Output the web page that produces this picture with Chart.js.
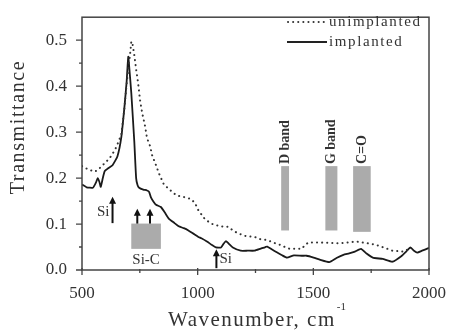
<!DOCTYPE html>
<html><head><meta charset="utf-8">
<script src="https://cdn.jsdelivr.net/npm/chart.js@4/dist/chart.umd.min.js"></script>
<style>html,body{margin:0;padding:0;background:#fff;overflow:hidden}#wrap{width:451px;height:332px}</style>
</head><body><div id="wrap"><canvas id="c" width="451" height="332"></canvas></div>
<script>
// ---- data ----
const wnImplanted = [500,520,547,560,568,575,581,590,598,615,632,653,670,683,693,700,706,713,726,734,740,747,765,781,790,798,810,820,841,858,875,900,918,940,960,985,1003,1016,1040,1060,1079,1101,1112,1122,1135,1152,1186,1216,1246,1270,1293,1301,1320,1344,1365,1386,1416,1450,1471,1501,1530,1569,1600,1630,1655,1680,1706,1730,1757,1800,1842,1880,1905,1919,1935,1949,1970,1995,2000];
const trImplanted = [0.186,0.180,0.179,0.190,0.200,0.192,0.181,0.200,0.215,0.222,0.228,0.247,0.289,0.352,0.410,0.464,0.430,0.386,0.280,0.200,0.185,0.179,0.175,0.173,0.170,0.158,0.148,0.142,0.137,0.125,0.112,0.102,0.095,0.091,0.086,0.078,0.072,0.069,0.062,0.055,0.049,0.049,0.057,0.063,0.057,0.049,0.042,0.042,0.042,0.046,0.050,0.051,0.045,0.038,0.032,0.027,0.032,0.031,0.031,0.027,0.022,0.017,0.026,0.033,0.036,0.040,0.046,0.036,0.027,0.024,0.018,0.030,0.042,0.049,0.042,0.038,0.042,0.047,0.048];
const wnUnimplanted = [500,526,555,570,585,606,628,649,670,683,692,700,708,713,717,726,734,743,751,760,773,781,794,803,820,832,854,883,909,947,973,990,1003,1032,1067,1101,1131,1150,1173,1207,1246,1271,1301,1331,1360,1386,1399,1429,1450,1465,1480,1520,1569,1612,1650,1684,1710,1750,1782,1815,1842,1868,1890,1910,1916];
const trUnimplanted = [0.226,0.219,0.214,0.218,0.226,0.236,0.249,0.268,0.295,0.350,0.400,0.437,0.470,0.496,0.497,0.468,0.437,0.405,0.369,0.342,0.312,0.287,0.270,0.250,0.228,0.211,0.186,0.173,0.162,0.158,0.154,0.144,0.130,0.110,0.099,0.095,0.094,0.087,0.080,0.074,0.072,0.067,0.065,0.059,0.054,0.048,0.046,0.046,0.046,0.055,0.060,0.060,0.059,0.058,0.060,0.062,0.060,0.057,0.053,0.047,0.042,0.041,0.040,0.045,0.048];
const seriesNames = ['unimplanted','implanted'];
const xTickValues = [500,1000,1500,2000];
const xMinorTicks = [750,1250,1750];
const yTickValues = [0,0.1,0.2,0.3,0.4,0.5];
const yTickLabels = ['0.0','0.1','0.2','0.3','0.4','0.5'];
const yMinorTicks = [0.05,0.15,0.25,0.35,0.45];
const xTitle = 'Wavenumber, cm';
const xTitleSup = '-1';
const yTitle = 'Transmittance';
// band regions (wavenumber / transmittance ranges)
const bandX0 = [713,1361,1552,1672];
const bandX1 = [841,1395,1604,1748];
const bandY0 = [0.046,0.086,0.086,0.083];
const bandY1 = [0.101,0.226,0.226,0.226];
const bandNames = ['Si-C','D band','G band','C=O'];
// arrows marking Si / Si-C features
const arrowX = [632,739,794,1081];
const arrowY0 = [0.102,0.101,0.101,0.004];
const arrowY1 = [0.157,0.131,0.131,0.043];
const siLabel = 'Si';

const FONT = '"Liberation Serif","Times New Roman",serif';
const TXT = '#333';

function drawText(ctx, t, x, y, size, opts) {
  opts = opts || {};
  ctx.save();
  ctx.font = (opts.weight||'') + ' ' + size + 'px ' + FONT;
  ctx.fillStyle = opts.color || TXT;
  ctx.textAlign = opts.align || 'left';
  ctx.textBaseline = opts.baseline || 'middle';
  if ('letterSpacing' in ctx) ctx.letterSpacing = (opts.spacing||0) + 'px';
  ctx.translate(x, y);
  if (opts.rotate) ctx.rotate(opts.rotate);
  ctx.fillText(t, 0, 0);
  ctx.restore();
}

const decor = {
  id: 'decor',
  beforeDatasetsDraw(chart) {
    const {ctx, scales:{x, y}} = chart;
    ctx.save();
    ctx.fillStyle = '#ababab';
    for (let i = 0; i < bandX0.length; i++) {
      const l = x.getPixelForValue(bandX0[i]), r = x.getPixelForValue(bandX1[i]);
      const t = y.getPixelForValue(bandY1[i]), b = y.getPixelForValue(bandY0[i]);
      ctx.fillRect(l, t, r - l, b - t);
    }
    ctx.restore();
  },
  afterDraw(chart) {
    const {ctx, chartArea:a, scales:{x, y}} = chart;
    ctx.save();
    // frame
    ctx.strokeStyle = '#444'; ctx.lineWidth = 1.5;
    ctx.strokeRect(a.left, a.top, a.right - a.left, a.bottom - a.top);
    // ticks
    ctx.lineWidth = 1.3;
    ctx.beginPath();
    xTickValues.forEach(v => { const p = x.getPixelForValue(v); ctx.moveTo(p, a.bottom - 2); ctx.lineTo(p, a.bottom + 5); });
    xMinorTicks.forEach(v => { const p = x.getPixelForValue(v); ctx.moveTo(p, a.bottom - 1); ctx.lineTo(p, a.bottom + 3); });
    yTickValues.forEach(v => { const p = y.getPixelForValue(v); ctx.moveTo(a.left - 6, p); ctx.lineTo(a.left, p); });
    yMinorTicks.forEach(v => { const p = y.getPixelForValue(v); ctx.moveTo(a.left - 3, p); ctx.lineTo(a.left, p); });
    ctx.stroke();
    // arrows
    ctx.fillStyle = '#111'; ctx.strokeStyle = '#111';
    for (let i = 0; i < arrowX.length; i++) {
      const px = x.getPixelForValue(arrowX[i]);
      const p0 = y.getPixelForValue(arrowY0[i]), p1 = y.getPixelForValue(arrowY1[i]);
      ctx.lineWidth = 2;
      ctx.beginPath(); ctx.moveTo(px, p0); ctx.lineTo(px, p1 + 5); ctx.stroke();
      ctx.beginPath(); ctx.moveTo(px - 3.5, p1 + 6); ctx.lineTo(px + 3.5, p1 + 6); ctx.lineTo(px, p1 - 1); ctx.closePath(); ctx.fill();
    }
    ctx.restore();
    // annotation labels
    const a0x = x.getPixelForValue(arrowX[0]);
    drawText(ctx, siLabel, a0x - 3, (y.getPixelForValue(arrowY0[0]) + y.getPixelForValue(arrowY1[0])) / 2 + 2, 15, {align:'right'});
    const a3x = x.getPixelForValue(arrowX[3]);
    drawText(ctx, siLabel, a3x + 3, y.getPixelForValue(arrowY0[3]) - 9, 15, {align:'left'});
    const sicx = (x.getPixelForValue(bandX0[0]) + x.getPixelForValue(bandX1[0])) / 2;
    drawText(ctx, bandNames[0], sicx, y.getPixelForValue(bandY0[0]) + 11, 15, {align:'center'});
    for (let i = 1; i < bandNames.length; i++) {
      const cx = (x.getPixelForValue(bandX0[i]) + x.getPixelForValue(bandX1[i])) / 2;
      const top = y.getPixelForValue(bandY1[i]);
      drawText(ctx, bandNames[i], cx, top - 2, 14, {align:'left', rotate:-Math.PI/2, weight:'bold'});
    }
    // legend
    ctx.save();
    ctx.strokeStyle = '#333'; ctx.lineCap = 'round';
    ctx.lineWidth = 2; ctx.setLineDash([0.1, 5]);
    ctx.beginPath(); ctx.moveTo(288, 22); ctx.lineTo(326, 22); ctx.stroke();
    ctx.setLineDash([]); ctx.lineCap = 'butt'; ctx.lineWidth = 1.8; ctx.strokeStyle = '#222';
    ctx.beginPath(); ctx.moveTo(287, 42); ctx.lineTo(327, 42); ctx.stroke();
    ctx.restore();
    drawText(ctx, seriesNames[0], 329, 22, 15, {spacing:1.6});
    drawText(ctx, seriesNames[1], 329, 42, 15, {spacing:1.6});
    // axis titles
    drawText(ctx, yTitle, 19, 127, 20, {align:'center', rotate:-Math.PI/2, spacing:1.6});
    ctx.save();
    ctx.font = '21px ' + FONT;
    if ('letterSpacing' in ctx) ctx.letterSpacing = '1.5px';
    const w = ctx.measureText(xTitle).width;
    ctx.restore();
    const xs = 168;
    drawText(ctx, xTitle, xs, 320, 21, {spacing:1.5});
    drawText(ctx, xTitleSup, xs + w + 1, 307, 11);
  }
};

new Chart(document.getElementById('c'), {
  type: 'line',
  data: {
    datasets: [
      { label: seriesNames[0], data: wnUnimplanted.map((v, i) => ({x: v, y: trUnimplanted[i]})),
        borderColor: '#333', borderWidth: 2, borderDash: [0.1, 5], borderCapStyle: 'round',
        pointRadius: 0, fill: false, tension: 0 },
      { label: seriesNames[1], data: wnImplanted.map((v, i) => ({x: v, y: trImplanted[i]})),
        borderColor: '#1a1a1a', borderWidth: 1.8, pointRadius: 0, fill: false, tension: 0.15,
        borderJoinStyle: 'round' }
    ]
  },
  options: {
    responsive: false, animation: false, devicePixelRatio: 1,
    layout: { padding: { top: 9, right: 17, left: 0, bottom: 0 } },
    plugins: { legend: { display: false }, tooltip: { enabled: false } },
    scales: {
      x: { type: 'linear', min: 500, max: 2000,
        afterBuildTicks: s => { s.ticks = xTickValues.map(v => ({value: v})); },
        afterFit: s => { s.height = 62; },
        grid: { display: false }, border: { display: false },
        ticks: { font: { family: FONT, size: 17 }, color: TXT, padding: 5, maxRotation: 0,
          callback: v => String(v) } },
      y: { min: 0, max: 0.55,
        afterBuildTicks: s => { s.ticks = yTickValues.map(v => ({value: v})); },
        afterFit: s => { s.width = 82; },
        grid: { display: false }, border: { display: false },
        ticks: { font: { family: FONT, size: 17 }, color: TXT, padding: 7,
          callback: (v, i) => yTickLabels[i] } }
    }
  },
  plugins: [decor]
});
</script></body></html>
